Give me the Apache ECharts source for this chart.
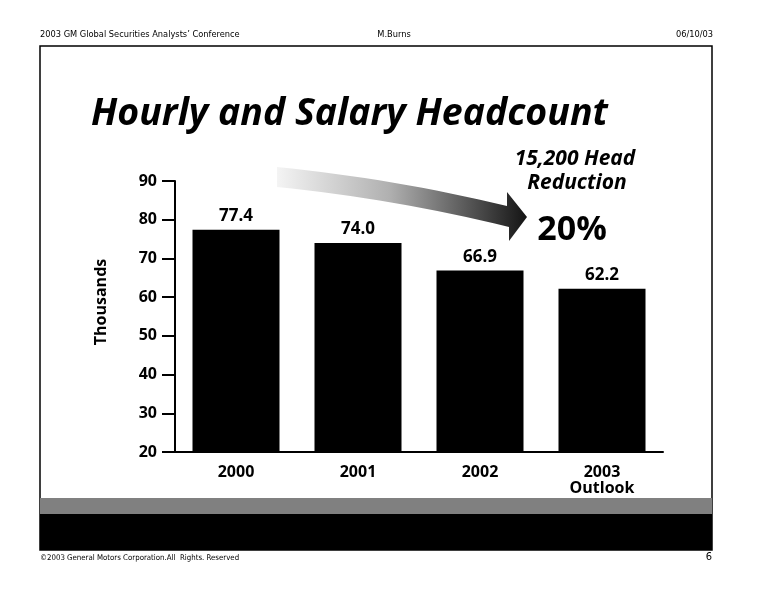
<!DOCTYPE html>
<html>
<head>
<meta charset="utf-8">
<script src="https://cdn.jsdelivr.net/npm/echarts@6/dist/echarts.min.js"></script>
<style>
html,body{margin:0;padding:0;background:#fff;}
#chart{width:760px;height:597px;}
</style>
</head>
<body>
<div id="chart"></div>
<script>
// ---- data ----
var categories = ['2000', '2001', '2002', '2003\nOutlook'];
var headcount = [77.4, 74.0, 66.9, 62.2];   // thousands
var yTicks = [20, 30, 40, 50, 60, 70, 80, 90];
var titleText = 'Hourly and Salary Headcount';
var axisNameText = 'Thousands';
var noteLine1 = '15,200 Head';
var noteLine2 = 'Reduction';
var notePct = '20%';
var headerLeft = '2003 GM Global Securities Analysts\u2019 Conference';
var headerCenter = 'M.Burns';
var headerRight = '06/10/03';
var footerLeft = '\u00A92003 General Motors Corporation.All  Rights. Reserved';
var footerRight = '6';

var FONT = "'Open Sans', 'Noto Sans', sans-serif";
var SMALL = "'Liberation Sans Narrow', 'DejaVu Sans Condensed', 'Open Sans', sans-serif";

var chart = echarts.init(document.getElementById('chart'), null, {renderer: 'canvas'});

function txt(x, y, s, font, size, extra) {
  var st = {text: s, fontFamily: font, fontSize: size, fill: '#000'};
  for (var k in extra) st[k] = extra[k];
  return {type: 'text', x: x, y: y, style: st, z: 10};
}

// decorative curved arrow outline (quadratic edges sampled into a polygon)
function quad(p0, c, p1, n) {
  var out = [];
  for (var i = 0; i <= n; i++) {
    var t = i / n, u = 1 - t;
    out.push([u * u * p0[0] + 2 * u * t * c[0] + t * t * p1[0],
              u * u * p0[1] + 2 * u * t * c[1] + t * t * p1[1]]);
  }
  return out;
}
var arrowPts = []
  .concat(quad([277, 167], [395, 179], [507, 206], 16))
  .concat([[507, 192], [527, 217], [509, 241], [509, 227]])
  .concat(quad([509, 227], [395, 199], [277, 187], 16));

var option = {
  backgroundColor: '#ffffff',
  animation: false,
  title: {
    text: titleText,
    left: 86,
    top: 90,
    textStyle: {fontFamily: FONT, fontSize: 37.5, fontWeight: 'bold', fontStyle: 'italic', color: '#000'}
  },
  grid: {left: 175, right: 97, top: 181, bottom: 145, containLabel: false},
  xAxis: {
    type: 'category',
    data: categories,
    axisLine: {show: true, lineStyle: {color: '#000', width: 2}},
    axisTick: {show: false},
    axisLabel: {fontFamily: FONT, fontSize: 16, fontWeight: 'bold', color: '#000', margin: 12, lineHeight: 16}
  },
  yAxis: {
    type: 'value',
    min: yTicks[0],
    max: yTicks[yTicks.length - 1],
    interval: yTicks[1] - yTicks[0],
    axisLine: {show: true, lineStyle: {color: '#000', width: 2}},
    axisTick: {show: true, length: 13, lineStyle: {color: '#000', width: 2}},
    splitLine: {show: false},
    axisLabel: {fontFamily: FONT, fontSize: 16, fontWeight: 'bold', color: '#000', margin: 18}
  },
  series: [{
    type: 'bar',
    data: headcount,
    barWidth: 87,
    itemStyle: {color: '#000'},
    label: {
      show: true,
      position: 'top',
      distance: 5,
      fontFamily: FONT,
      fontSize: 17,
      fontWeight: 'bold',
      color: '#000',
      formatter: function (p) { return p.value.toFixed(1); }
    }
  }],
  graphic: [
    // slide frame
    {type: 'rect', shape: {x: 40, y: 46, width: 672, height: 504}, style: {fill: 'none', stroke: '#000', lineWidth: 1.5}, z: 1},
    {type: 'rect', shape: {x: 40, y: 498, width: 672, height: 16}, style: {fill: '#808080'}, z: 1},
    {type: 'rect', shape: {x: 40, y: 514, width: 672, height: 36}, style: {fill: '#000'}, z: 1},
    // header / footer
    txt(40, 35, headerLeft, SMALL, 9.2, {verticalAlign: 'middle'}),
    txt(394, 35, headerCenter, SMALL, 9.2, {align: 'center', verticalAlign: 'middle'}),
    txt(713, 35, headerRight, SMALL, 9.2, {align: 'right', verticalAlign: 'middle'}),
    txt(40, 558, footerLeft, SMALL, 7.8, {verticalAlign: 'middle'}),
    txt(712, 557, footerRight, SMALL, 11, {align: 'right', verticalAlign: 'middle'}),
    // y axis name
    {type: 'text', x: 101, y: 302, rotation: Math.PI / 2, z: 10,
     style: {text: axisNameText, fontFamily: FONT, fontSize: 16, fontWeight: 'bold', fill: '#000', align: 'center', verticalAlign: 'middle'}},
    // gradient arrow
    {type: 'polygon', z: 5,
     shape: {points: arrowPts},
     style: {fill: {type: 'linear', x: 0, y: 0, x2: 1, y2: 0, colorStops: [
        {offset: 0, color: '#f4f4f4'},
        {offset: 0.45, color: '#b0b0b0'},
        {offset: 1, color: '#141414'}
     ]}}},
    // annotation texts
    txt(575, 159, noteLine1, FONT, 21, {fontWeight: 'bold', fontStyle: 'italic', align: 'center', verticalAlign: 'middle'}),
    txt(577, 183, noteLine2, FONT, 21, {fontWeight: 'bold', fontStyle: 'italic', align: 'center', verticalAlign: 'middle'}),
    txt(572, 230, notePct, FONT, 34, {fontWeight: 'bold', align: 'center', verticalAlign: 'middle'})
  ]
};
chart.setOption(option);
</script>
</body>
</html>
